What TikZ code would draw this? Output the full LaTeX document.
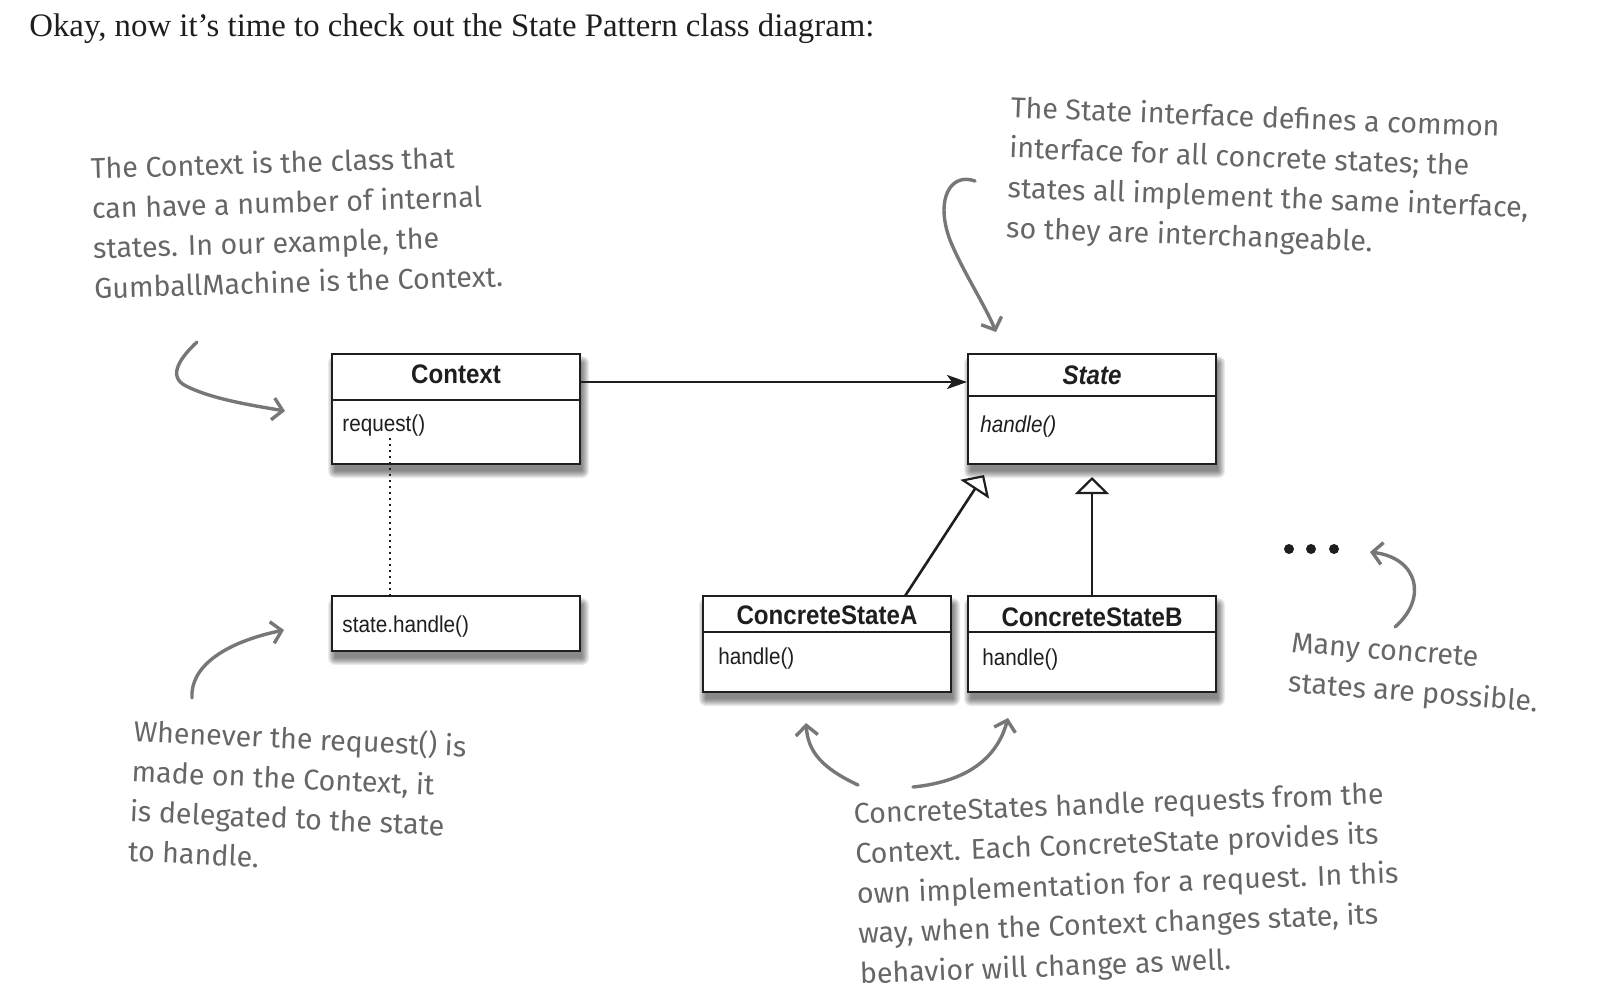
\documentclass[tikz,border=0pt]{standalone}
\usepackage{fontspec}
\setmainfont{Liberation Serif}
\newfontfamily\umlfont[FakeStretch=0.9]{Liberation Sans}
\newfontfamily\handfont{Fira Sans}
\usetikzlibrary{arrows.meta,calc}
\pgfdeclarelayer{background}
\pgfsetlayers{background,main}
\definecolor{ink}{HTML}{1E1E1E}
\definecolor{notegray}{HTML}{666666}
\definecolor{arrowgray}{HTML}{777777}
\newcommand\softshadow[1]{%
  \begin{pgfonlayer}{background}
    \foreach \d in {0,...,7}{%
      \fill[black,opacity=0.075,rounded corners=\d*0.5pt]
        ($(#1.north west)+(3-\d,9-\d)$) rectangle ($(#1.south east)+(2+\d,7+\d)$);
    }
  \end{pgfonlayer}}
\begin{document}
\begin{tikzpicture}[x=0.5pt,y=-0.5pt,
  classbox/.style={draw=ink,line width=0.85pt,fill=white,inner sep=0pt,outer sep=0pt},
  divider/.style={draw=ink,line width=0.6pt},
  classname/.style={font=\umlfont\bfseries\fontsize{13.4pt}{15pt}\selectfont,text=ink,inner sep=0pt},
  operation/.style={font=\umlfont\fontsize{11.5pt}{13pt}\selectfont,text=ink,inner sep=0pt,anchor=west},
  assoc/.style={draw=ink,line width=1.3pt,-{Stealth[length=10pt,width=7pt,inset=2.5pt]}},
  inherit/.style={draw=ink,line width=1.3pt,-{Triangle[open,length=8.5pt,width=17pt,line width=1.1pt]}},
  dotline/.style={draw=ink,line width=1pt,dash pattern=on 1pt off 2pt},
  note/.style={font=\handfont\fontsize{14.3pt}{20pt}\selectfont,text=notegray,align=left,inner sep=0pt,anchor=north west},
  notearrow/.style={draw=arrowgray,line width=1.7pt,line cap=round,line join=round,-{Straight Barb[length=5pt,width=11pt,line width=1.7pt]}},
  dot/.style={circle,fill=ink,inner sep=0pt,minimum size=5pt}
]
\useasboundingbox (0,0) rectangle (1601,1003);

% title
\node[anchor=base west,inner sep=0pt,font=\fontsize{16.4pt}{19pt}\selectfont,text=ink] (title) at (29,36)
  {Okay, now it’s time to check out the State Pattern class diagram:};

% Context
\node[classbox,minimum width=124pt,minimum height=55pt] (ctx) at (456,409) {};
\softshadow{ctx}
\draw[divider] ($(ctx.north west)+(0,46)$) -- ($(ctx.north east)+(0,46)$);
\node[classname] (ctxname) at ($(ctx.north)+(0,20)$) {Context};
\node[operation] (ctxop) at ($(ctx.north west)+(10,72)$) {request()};

% state.handle()
\node[classbox,minimum width=124pt,minimum height=27.5pt] (hdl) at (456,623.5) {};
\softshadow{hdl}
\node[operation] (hdlop) at ($(hdl.north west)+(10,31)$) {state.handle()};

% State
\node[classbox,minimum width=124pt,minimum height=55pt] (state) at (1092,409) {};
\softshadow{state}
\draw[divider] ($(state.north west)+(0,42)$) -- ($(state.north east)+(0,42)$);
\node[classname] (statename) at ($(state.north)+(0,21)$) {\itshape State};
\node[operation] (stateop) at ($(state.north west)+(12,73)$) {\itshape handle()};

% ConcreteStateA
\node[classbox,minimum width=124pt,minimum height=48pt] (csA) at (827,644) {};
\softshadow{csA}
\draw[divider] ($(csA.north west)+(0,36)$) -- ($(csA.north east)+(0,36)$);
\node[classname] (csAname) at ($(csA.north)+(0,19)$) {ConcreteStateA};
\node[operation] (csAop) at ($(csA.north west)+(15,63)$) {handle()};

% ConcreteStateB
\node[classbox,minimum width=124pt,minimum height=48pt] (csB) at (1092,644) {};
\softshadow{csB}
\draw[divider] ($(csB.north west)+(0,36)$) -- ($(csB.north east)+(0,36)$);
\node[classname] (csBname) at ($(csB.north)+(0,21)$) {ConcreteStateB};
\node[operation] (csBop) at ($(csB.north west)+(14,64)$) {handle()};

% connectors
\draw[assoc] ($(ctx.north east)+(0,28)$) -- ($(state.north west)+(-1,28)$);
\draw[dotline] ($(ctx.south west)+(58,-26)$) -- ($(hdl.north west)+(58,0)$);
\draw[inherit] ($(csA.north east)+(-46,0)$) -- ($(state.south west)+(16,11)$);
\draw[inherit] (csB.north) -- ($(state.south)+(0,13)$);

% more states
\node[dot] (dotA) at (1289,549) {};
\node[dot] (dotB) at (1311,549) {};
\node[dot] (dotC) at (1334,549) {};

% notes
\node[note,rotate=1.7] (note1) at (90,156) {The Context is the class that\\can have a number of internal\\states. In our example, the\\GumballMachine is the Context.};
\node[note,rotate=-2.2] (note2) at (1011,95) {The State interface defines a common\\interface for all concrete states; the\\states all implement the same interface,\\so they are interchangeable.};
\node[note,rotate=-2.6] (note3) at (134,717) {Whenever the request() is\\made on the Context, it\\is delegated to the state\\to handle.};
\node[note,rotate=2.2] (note4) at (853,802) {ConcreteStates handle requests from the\\Context. Each ConcreteState provides its\\own implementation for a request. In this\\way, when the Context changes state, its\\behavior will change as well.};
\node[note,rotate=-4.5] (note5) at (1292,632) {Many concrete\\states are possible.};

% note arrows
\coordinate (a1s) at (197,342); \coordinate (a1e) at (285,411);
\draw[notearrow] (a1s) .. controls (182,356) and (166,376) .. (186,386) .. controls (212,399) and (250,405) .. (a1e);
\coordinate (a2s) at (975,181); \coordinate (a2e) at (996,332);
\draw[notearrow] (a2s) .. controls (950,172) and (935,200) .. (950,240) .. controls (962,270) and (985,305) .. (a2e);
\coordinate (a3s) at (192,698); \coordinate (a3e) at (284,630);
\draw[notearrow] (a3s) .. controls (190,668) and (222,643) .. (a3e);
\coordinate (a4s) at (858,785); \coordinate (a4e) at (806,723);
\draw[notearrow] (a4s) .. controls (822,768) and (808,752) .. (a4e);
\coordinate (a5s) at (913,787); \coordinate (a5e) at (1008,718);
\draw[notearrow] (a5s) .. controls (962,782) and (996,762) .. (a5e);
\coordinate (a6s) at (1395,627); \coordinate (a6e) at (1370,552);
\draw[notearrow] (a6s) .. controls (1428,598) and (1418,558) .. (a6e);
\end{tikzpicture}
\end{document}
